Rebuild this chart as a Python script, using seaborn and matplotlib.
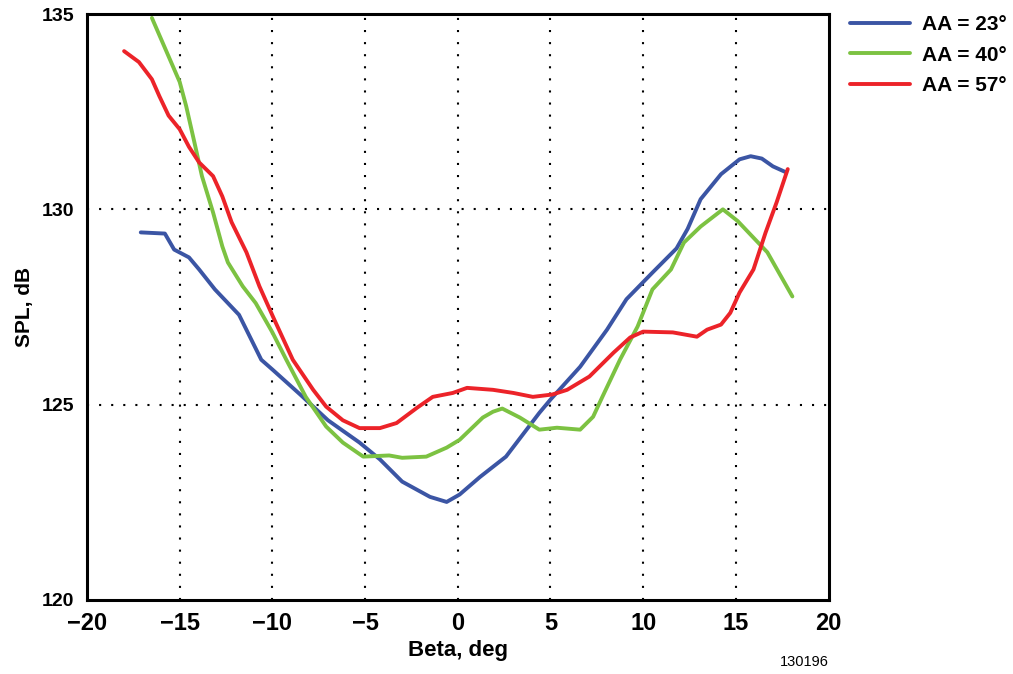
import pandas as pd
import seaborn as sns
import matplotlib.pyplot as plt

# values
beta_23 = [-17.1, -15.8, -15.3, -14.5, -13.95, -13.1, -11.8, -10.6, -10.0, -8.5, -7.0, -5.3, -4.2, -3.0,
           -1.5, -0.6, 0.1, 1.2, 2.6, 4.4, 5.0, 6.6, 8.05, 9.1, 10.5, 11.8, 12.4, 13.1, 14.2, 15.2, 15.8,
           16.4, 17.0, 17.7]
spl_23 = [129.41, 129.38, 128.97, 128.77, 128.46, 127.95, 127.3, 126.15, 125.9, 125.26, 124.6, 124.03,
          123.6, 123.03, 122.64, 122.51, 122.7, 123.15, 123.67, 124.79, 125.13, 125.97, 126.92, 127.7,
          128.38, 129.0, 129.5, 130.26, 130.9, 131.28, 131.36, 131.3, 131.1, 130.95]

beta_40 = [-16.5, -15.0, -14.65, -14.2, -13.8, -13.2, -12.7, -12.4, -11.6, -10.9, -10.0, -9.25, -8.2,
           -7.1, -6.2, -5.1, -3.7, -3.0, -1.7, -0.6, 0.1, 1.35, 1.9, 2.4, 3.35, 4.4, 5.35, 6.6, 7.3, 7.8,
           8.75, 9.7, 10.5, 11.5, 12.2, 13.1, 14.3, 15.1, 15.9, 16.7, 18.05]
spl_40 = [134.9, 133.26, 132.64, 131.7, 130.85, 129.92, 129.05, 128.64, 128.03, 127.6, 126.85, 126.15,
          125.2, 124.44, 124.03, 123.67, 123.7, 123.64, 123.67, 123.9, 124.1, 124.67, 124.82, 124.9,
          124.67, 124.36, 124.41, 124.36, 124.69, 125.2, 126.15, 127.0, 127.95, 128.46, 129.15, 129.56,
          130.0, 129.7, 129.3, 128.9, 127.77]

beta_57 = [-18.0, -17.2, -16.5, -16.1, -15.6, -15.0, -14.5, -13.95, -13.2, -12.7, -12.2, -11.4, -10.7,
           -9.9, -8.9, -7.8, -7.1, -6.2, -5.3, -4.2, -3.3, -2.2, -1.35, -0.27, 0.5, 1.9, 3.0, 4.05, 5.1,
           5.9, 7.1, 8.4, 9.3, 10.0, 11.6, 12.9, 13.45, 14.2, 14.7, 15.2, 15.95, 16.6, 17.2, 17.8]
spl_57 = [134.05, 133.77, 133.33, 132.9, 132.4, 132.05, 131.6, 131.2, 130.85, 130.33, 129.67, 128.9,
          128.03, 127.18, 126.15, 125.38, 124.95, 124.6, 124.4, 124.4, 124.53, 124.92, 125.2, 125.3,
          125.43, 125.38, 125.3, 125.2, 125.26, 125.38, 125.72, 126.33, 126.72, 126.87, 126.85, 126.74,
          126.92, 127.05, 127.35, 127.87, 128.46, 129.4, 130.18, 131.03]

labels = ['AA = 23°', 'AA = 40°', 'AA = 57°']
colors = ['#3b55a4', '#7cc242', '#ec2329']

frames = []
for lab, xs, ys in zip(labels, [beta_23, beta_40, beta_57], [spl_23, spl_40, spl_57]):
    frames.append(pd.DataFrame({'beta': xs, 'spl': ys, 'case': lab}))
df = pd.concat(frames)

sns.set_style('white')
plt.rcParams['font.family'] = ['Liberation Sans', 'DejaVu Sans']
plt.rcParams['text.color'] = 'black'
plt.rcParams['axes.labelcolor'] = 'black'
plt.rcParams['xtick.color'] = 'black'
plt.rcParams['ytick.color'] = 'black'

fig = plt.figure(figsize=(10.13, 6.74), dpi=100)
ax = fig.add_axes([0.0859, 0.1098, 0.732, 0.8694])

sns.lineplot(data=df, x='beta', y='spl', hue='case', palette=colors, estimator=None,
             sort=False, linewidth=2.8, ax=ax)

ax.set_xlim(-20, 20)
ax.set_ylim(120, 135)
ax.set_xticks(range(-20, 21, 5))
ax.set_xticklabels(['\u221220', '\u221215', '\u221210', '\u22125', '0', '5', '10', '15', '20'])
ax.set_yticks([120, 125, 130, 135])
ax.tick_params(axis='x', length=0, pad=9)
ax.tick_params(axis='y', length=0, pad=9)
for t in ax.get_xticklabels():
    t.set_fontsize(17)
    t.set_fontweight('bold')
for t in ax.get_yticklabels():
    t.set_fontsize(14)
    t.set_fontweight('bold')

# dotted grid only inside the box
for gx in range(-15, 16, 5):
    ax.axvline(gx, color='black', linestyle=(0, (1, 4.8)), linewidth=1.5, zorder=0)
for gy in [125, 130]:
    ax.axhline(gy, color='black', linestyle=(0, (1, 4.8)), linewidth=1.5, zorder=0)

for s in ax.spines.values():
    s.set_linewidth(2.2)
    s.set_color('black')

ax.set_xlabel('Beta, deg', fontsize=16, fontweight='bold', labelpad=3)
ax.set_ylabel('SPL, dB', fontsize=15, fontweight='bold', labelpad=6)

ax.legend(loc='upper left', bbox_to_anchor=(1.003, 1.03), frameon=False,
          prop={'size': 15, 'weight': 'bold'}, handlelength=2.9, handletextpad=0.6,
          labelspacing=0.55)

fig.text(0.77, 0.012, '130196', fontsize=10.5)

fig.savefig('out.png', dpi=100)
